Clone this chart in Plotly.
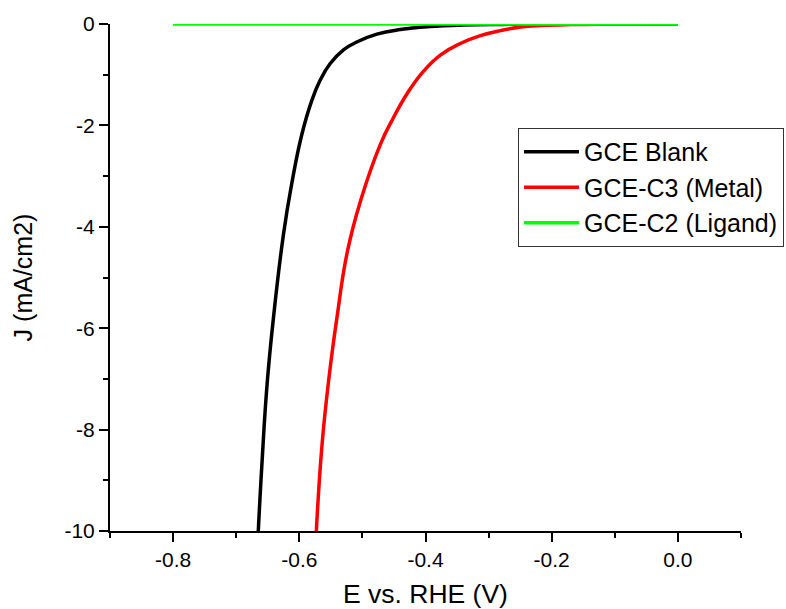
import plotly.graph_objects as go

# ---- data ----
blank_E = [-0.665, -0.659, -0.651, -0.641, -0.625, -0.612, -0.596, -0.580, -0.567,
           -0.551, -0.530, -0.508, -0.477, -0.440, -0.392, -0.34, -0.28, -0.20, 0.0]
blank_J = [-10.0, -8.63, -7.10, -5.80, -4.14, -3.15, -2.18, -1.50, -1.11,
           -0.78, -0.51, -0.35, -0.20, -0.11, -0.05, -0.02, -0.008, -0.003, 0.0]

metal_E = [-0.573, -0.564, -0.553, -0.540, -0.524, -0.503, -0.471, -0.453, -0.429, -0.403,
           -0.376, -0.344, -0.313, -0.281, -0.249, -0.217, -0.17, -0.10, 0.0]
metal_J = [-10.0, -8.30, -6.98, -5.76, -4.50, -3.49, -2.36, -1.90, -1.37, -0.93,
           -0.61, -0.38, -0.23, -0.13, -0.06, -0.03, -0.012, -0.004, 0.0]

ligand_E = [-0.8, -0.4, 0.0]
ligand_J = [0.0, 0.0, 0.0]

series_names = ["GCE Blank", "GCE-C3 (Metal)", "GCE-C2 (Ligand)"]
series_colors = ["#000000", "#ff0000", "#00ff00"]

x_tickvals = [-0.8, -0.6, -0.4, -0.2, 0.0]
x_ticktext = ["-0.8", "-0.6", "-0.4", "-0.2", "0.0"]
y_tickvals = [0, -2, -4, -6, -8, -10]
y_ticktext = ["0", "-2", "-4", "-6", "-8", "-10"]

FONT = "Liberation Sans, Arial, sans-serif"

fig = go.Figure()
for E, J, name, col in zip([blank_E, metal_E, ligand_E], [blank_J, metal_J, ligand_J],
                           series_names, series_colors):
    fig.add_trace(go.Scatter(x=E, y=J, mode="lines", name=name,
                             line=dict(color=col, width=3.5, shape="spline", smoothing=1.3)))

axis_common = dict(
    showline=True, linecolor="black", linewidth=2, mirror=False,
    ticks="outside", ticklen=9, tickwidth=2, tickcolor="black",
    showgrid=False, zeroline=False,
    tickfont=dict(family=FONT, size=21, color="black"),
)

fig.update_xaxes(
    range=[-0.9, 0.1], tickvals=x_tickvals, ticktext=x_ticktext,
    minor=dict(ticks="outside", ticklen=5, tickwidth=2, tickcolor="black", dtick=0.1, tick0=0),
    title=dict(text="E vs. RHE (V)", font=dict(family=FONT, size=26.5, color="black"), standoff=16),
    **axis_common,
)
fig.update_yaxes(
    range=[-10, 0], tickvals=y_tickvals, ticktext=y_ticktext,
    minor=dict(ticks="outside", ticklen=5, tickwidth=2, tickcolor="black", dtick=1, tick0=0),
    title=dict(text="J (mA/cm2)", font=dict(family=FONT, size=25, color="black"), standoff=25),
    **axis_common,
)

fig.update_layout(
    width=786, height=609,
    margin=dict(l=110, r=45, t=24, b=78, autoexpand=False),
    paper_bgcolor="white", plot_bgcolor="white",
    font=dict(family=FONT, color="black"),
    legend=dict(
        xref="container", yref="container",
        x=0.659, y=0.790, xanchor="left", yanchor="top",
        bordercolor="#333333", borderwidth=1, bgcolor="white",
        font=dict(family=FONT, size=25, color="black"),
        itemwidth=55, tracegroupgap=0,
    ),
    showlegend=True,
)

fig.write_html("out.html")
